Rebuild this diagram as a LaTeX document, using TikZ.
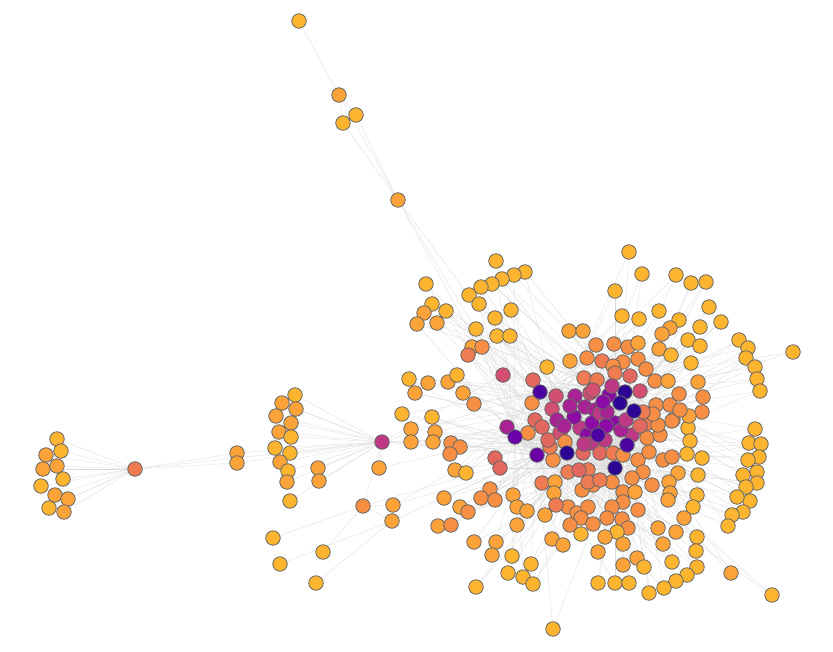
\documentclass[tikz,border=0pt]{standalone}
\pgfdeclarelayer{bg}\pgfdeclarelayer{fg}\pgfsetlayers{bg,main,fg}
\definecolor{c1}{HTML}{FDB42F}
\definecolor{c2}{HTML}{FBA238}
\definecolor{c3}{HTML}{F68F44}
\definecolor{c4}{HTML}{EE7B51}
\definecolor{c5}{HTML}{E2685F}
\definecolor{c6}{HTML}{D24F71}
\definecolor{c7}{HTML}{BE3885}
\definecolor{c8}{HTML}{A82296}
\definecolor{c9}{HTML}{8C0AA5}
\definecolor{c10}{HTML}{6A00A8}
\definecolor{c11}{HTML}{4B03A1}
\definecolor{c12}{HTML}{2D0594}
\definecolor{ndline}{HTML}{666666}
\definecolor{edgec}{HTML}{DADADA}
\begin{document}
\begin{tikzpicture}[x=1pt,y=-1pt,
  nd/.style={circle,draw=ndline,line width=0.8pt,minimum size=14.5pt,inner sep=0pt},
  ed/.style={draw=edgec,line width=0.3pt}]
\useasboundingbox (0,0) rectangle (833,651);
% core hubs (on top)
\begin{pgfonlayer}{fg}
\foreach \x/\y/\c [count=\i from 0] in {540/392/c11,515/437/c10,537/455/c10,567/453/c12,625/392/c12,634/411/c12,620/403/c12,615/468/c12,627/445/c11,598/435/c11}
  \node[nd,fill=\c] (k\i) at (\x,\y) {};
\end{pgfonlayer}
% named nodes
\node[nd,fill=c4] (hL) at (135,469) {};
\node[nd,fill=c7] (hM) at (382,442) {};
\node[nd,fill=c6] (hA) at (503,375) {};
\node[nd,fill=c3] (m1) at (363,506) {};
\node[nd,fill=c2] (m2) at (392,521) {};
\node[nd,fill=c2] (m3) at (393,505) {};
\node[nd,fill=c2] (m4) at (379,468) {};
\node[nd,fill=c1] (t1) at (299,21) {};
\node[nd,fill=c2] (t2) at (339,95) {};
\node[nd,fill=c1] (t3) at (356,115) {};
\node[nd,fill=c1] (t4) at (343,123) {};
\node[nd,fill=c2] (t5) at (398,200) {};
\node[nd,fill=c2] (b1) at (237,453) {};
\node[nd,fill=c2] (b2) at (237,463) {};
% far-left group
\foreach \x/\y/\c [count=\i] in {57/439/c1,46/455/c2,61/451/c1,43/469/c2,57/466/c2,63/479/c1,41/486/c1,55/495/c2,68/499/c2,49/508/c1,64/512/c2}{
  \node[nd,fill=\c] (l\i) at (\x,\y) {};\xdef\lN{\i}}
% column group around hM
\foreach \x/\y/\c [count=\i] in {295/395/c1,282/403/c2,296/409/c2,276/416/c2,291/423/c2,279/432/c2,291/437/c1,275/448/c1,290/453/c1,280/462/c2,288/471/c1,287/482/c2,290/501/c1,318/468/c2,319/481/c2}{
  \node[nd,fill=\c] (c\i) at (\x,\y) {};\xdef\cN{\i}}
% lower-left group
\foreach \x/\y/\c [count=\i] in {273/538/c1,280/564/c1,323/552/c1,316/583/c1}{
  \node[nd,fill=\c] (o\i) at (\x,\y) {};\xdef\oN{\i}}
% main group
\foreach \x/\y/\c [count=\i] in {
496/261/c1,426/284/c1,525/272/c1,514/275/c1,502/279/c1,492/284/c1,481/287/c1,469/295/c1,432/304/c1,446/311/c1,
479/304/c1,511/310/c1,424/313/c2,417/324/c2,437/323/c2,495/318/c1,476/329/c1,497/336/c1,510/336/c1,472/347/c2,
482/347/c3,468/355/c4,547/367/c1,409/379/c1,428/383/c2,448/382/c2,457/375/c1,415/393/c2,463/393/c2,474/404/c3,
402/414/c1,432/417/c1,411/429/c2,435/432/c2,411/442/c2,433/442/c2,451/443/c3,460/447/c3,450/454/c3,455/470/c2,466/473/c1,
629/252/c1,642/274/c1,676/275/c1,691/283/c1,706/282/c1,615/291/c1,709/307/c1,721/322/c1,659/311/c1,622/316/c1,
639/319/c1,679/320/c1,670/328/c2,662/334/c2,700/327/c1,688/340/c1,700/346/c1,739/340/c1,748/348/c1,793/352/c1,
746/358/c1,755/367/c1,757/379/c1,760/391/c1,569/331/c2,583/331/c2,596/345/c3,614/344/c3,628/347/c3,638/343/c2,
659/349/c2,671/355/c1,691/363/c1,570/361/c2,587/358/c3,602/361/c4,623/362/c3,613/366/c3,638/359/c3,646/369/c3,
584/378/c4,597/380/c4,615/373/c4,630/376/c5,655/381/c3,668/381/c2,698/382/c2,590/393/c6,609/395/c9,640/391/c6,
679/394/c3,703/397/c3,
533/380/c5,532/403/c3,552/409/c6,585/407/c8,595/410/c8,593/390/c6,507/427/c8,528/433/c3,535/420/c5,542/427/c5,
557/420/c8,560/433/c6,565/442/c3,553/460/c3,550/447/c4,580/428/c7,587/435/c9,592/423/c9,583/453/c5,588/470/c4,
568/472/c4,593/485/c3,495/458/c5,500/468/c5,542/483/c4,555/482/c2,554/493/c2,513/495/c2,490/489/c3,481/498/c3,
495/500/c3,444/498/c2,460/507/c2,468/512/c3,517/507/c2,527/511/c2,568/507/c3,577/513/c3,582/490/c3,588/482/c4,579/470/c5,
600/413/c7,615/423/c9,632/435/c7,605/440/c7,592/443/c7,600/453/c5,613/453/c4,623/455/c3,638/460/c3,649/452/c3,
647/438/c3,648/423/c4,660/435/c3,658/425/c3,673/420/c3,688/428/c1,690/441/c1,687/454/c1,702/458/c1,663/460/c3,
672/457/c3,643/472/c3,678/473/c2,698/475/c1,669/482/c2,632/478/c3,652/485/c3,612/482/c3,600/480/c4,623/492/c3,
635/492/c2,670/493/c2,697/495/c1,656/405/c3,653/414/c3,670/405/c3,702/412/c3,672/421/c3,689/416/c2,643/412/c4,
607/412/c8,680/410/c3,
575/396/c8,606/426/c9,584/444/c7,612/386/c7,621/430/c8,574/417/c9,564/426/c8,548/440/c5,640/426/c5,626/420/c7,
570/406/c8,603/402/c9,556/396/c6,
755/429/c1,749/443/c1,761/444/c1,759/457/c1,748/460/c1,757/472/c1,743/475/c1,757/483/c1,746/487/c1,750/501/c1,
737/497/c1,743/512/c1,732/515/c1,728/526/c1,
693/507/c1,684/518/c2,623/502/c3,612/507/c3,638/510/c3,588/507/c3,607/518/c3,622/519/c3,628/528/c3,617/532/c1,
605/537/c2,581/518/c3,593/524/c3,570/525/c3,581/534/c1,668/500/c2,658/528/c2,676/532/c2,697/537/c1,696/551/c1,
663/544/c2,598/552/c2,623/544/c2,637/558/c2,623/565/c2,644/567/c1,672/562/c1,697/567/c1,687/575/c1,676/581/c1,
664/588/c1,649/593/c1,598/583/c1,615/583/c1,629/583/c1,731/573/c2,772/595/c1,
545/515/c2,556/505/c4,552/539/c2,563/545/c2,438/526/c2,451/525/c3,474/542/c2,496/542/c2,517/525/c2,492/555/c2,
512/556/c1,531/564/c1,508/573/c1,523/577/c1,533/584/c1,476/587/c1,553/629/c1}{
  \node[nd,fill=\c] (g\i) at (\x,\y) {};\xdef\gN{\i}}
% all connectors, behind the nodes
\begin{pgfonlayer}{bg}
\foreach \a/\b in {t1/t2,t2/t3,t2/t4,t2/t5,t3/t5,t4/t5,t5/hA,t5/k0,t5/k2,hL/b1,hL/b2,b1/hM,b2/hM,hL/hM,
  hM/k0,hM/k1,hM/k2,hM/k3,hM/k9,hM/hA,hM/m4,m4/k1,m4/hM,m1/hM,m1/k2,m1/m3,m3/k1,m3/k3,m2/k2,m2/m1,
  hA/k0,hA/k1,hA/k4,hA/k5,hA/k9,hA/k3}
  \draw[ed] (\a) -- (\b);
\foreach \i in {0,...,9}{\foreach \j in {0,...,9}{\ifnum\i<\j \draw[ed] (k\i) -- (k\j);\fi}}
\foreach \i in {1,...,\lN} \draw[ed] (l\i) -- (hL);
\foreach \i in {1,...,\cN} \draw[ed] (c\i) -- (hM);
\foreach \i in {1,...,\oN} {\ifodd\i \draw[ed] (o\i) -- (m1);\else \draw[ed] (o\i) -- (m2);\fi}
\foreach \i in {1,...,\gN}{
  \pgfmathtruncatemacro\ka{mod(\i,10)}
  \pgfmathtruncatemacro\kb{mod(\i*7+3,10)}
  \draw[ed] (g\i) -- (k\ka); \draw[ed] (g\i) -- (k\kb);}
\end{pgfonlayer}
\end{tikzpicture}
\end{document}
